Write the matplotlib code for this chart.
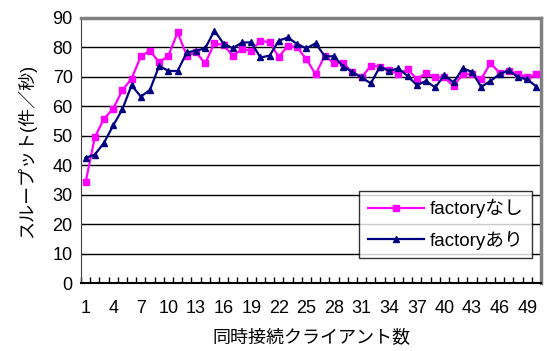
import numpy as np
import matplotlib
matplotlib.use("Agg")
import matplotlib.pyplot as plt

plt.rcParams["font.family"] = ["Liberation Sans", "Noto Sans CJK JP"]

clients = list(range(1, 51))
without_factory = [
    34.2, 49.5, 55.8, 59.2, 65.5, 69.4, 77.0, 78.9, 74.9, 77.2,
    85.1, 77.2, 78.3, 74.6, 81.4, 80.8, 77.2, 79.4, 78.9, 82.3,
    81.7, 76.8, 80.6, 80.0, 76.0, 70.9, 77.2, 74.6, 74.7, 71.5,
    69.8, 73.8, 73.5, 72.4, 70.9, 72.6, 69.2, 71.3, 69.8, 69.8,
    66.9, 70.9, 70.9, 69.2, 74.7, 71.3, 72.1, 71.0, 69.8, 70.9,
]
with_factory = [
    42.5, 43.6, 47.6, 53.5, 59.0, 67.2, 63.3, 65.6, 73.8, 72.0,
    72.0, 78.3, 78.9, 79.7, 85.7, 81.3, 79.7, 81.7, 81.7, 76.6,
    77.2, 82.3, 83.4, 81.1, 79.7, 81.4, 77.0, 77.0, 73.5, 71.7,
    69.8, 67.8, 73.5, 72.0, 72.9, 70.3, 67.2, 68.6, 66.4, 70.6,
    68.1, 72.9, 71.7, 66.6, 68.6, 70.9, 72.3, 69.8, 69.2, 66.7,
]
tick_labels = [str(c) for c in clients[::3]]

fig = plt.figure(figsize=(5.47, 3.51), dpi=100)
ax = fig.add_axes([81 / 547, 1 - 283 / 351, 460 / 547, 265 / 351])

x = np.arange(len(clients))
ax.plot(x, without_factory, color="#FF00FF", lw=1.6, marker="s", ms=4.5,
        label="factoryなし", zorder=3)
ax.plot(x, with_factory, color="#000080", lw=1.6, marker="^", ms=5,
        label="factoryあり", zorder=4)

ax.set_xlim(-0.5, len(clients) - 0.5)
ax.set_ylim(0, 90)
ax.set_yticks(range(0, 91, 10))
ax.set_xticks(x[::3])
ax.set_xticklabels(tick_labels)
ax.set_xticks(np.arange(-0.5, len(clients), 1), minor=True)
ax.tick_params(axis="x", which="major", length=0, labelsize=13, pad=12)
ax.tick_params(axis="x", which="minor", direction="in", length=4, width=1, color="black")
ax.tick_params(axis="y", direction="in", length=3, labelsize=13, pad=6)

for v in range(10, 90, 10):
    ax.axhline(v, color="black", lw=1, zorder=1)

ax.spines["top"].set_color("#808080")
ax.spines["top"].set_linewidth(2.5)
ax.spines["right"].set_color("#808080")
ax.spines["right"].set_linewidth(2.5)
ax.spines["left"].set_color("#404040")
ax.spines["bottom"].set_color("black")
ax.spines["bottom"].set_linewidth(1.5)

ax.set_xlabel("同時接続クライアント数", fontsize=13, labelpad=9)
ax.set_ylabel("スループット(件／秒)", fontsize=13, labelpad=12)

leg = ax.legend(loc="lower right", bbox_to_anchor=(0.98, 0.094), fontsize=13.5,
                frameon=True, fancybox=False, borderpad=0.45, handlelength=3.0,
                labelspacing=0.65, handletextpad=0.3, borderaxespad=0)
leg.get_frame().set_edgecolor("black")
leg.get_frame().set_linewidth(1)

fig.savefig("out.png", dpi=100)
